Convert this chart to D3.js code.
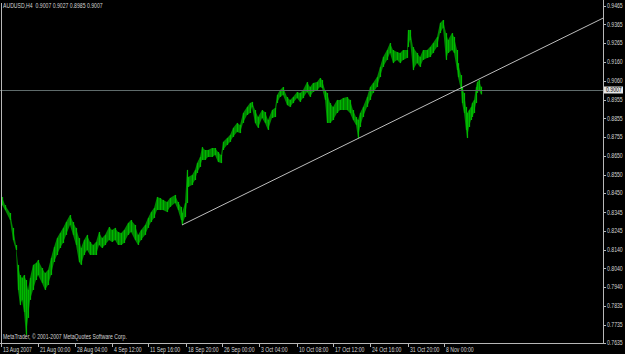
<!DOCTYPE html>
<html>
<head>
<meta charset="utf-8">
<script src="https://cdn.jsdelivr.net/npm/d3@7"></script>
<style>
  html, body { margin: 0; padding: 0; background: #000; }
  svg { display: block; }
  text { font-family: "Liberation Sans", Arial, sans-serif; }
</style>
</head>
<body>
<div id="chart"></div>
<script>
// AUDUSD H4 - bar index (1 px per bar), high and low per sample
const barIdx = [2, 5, 10, 13, 16, 18, 20, 22, 24, 26, 28, 30, 33, 36, 38, 42, 45, 48, 51, 54,
  57, 60, 63, 66, 70, 73, 76, 79, 81, 84, 87, 90, 93, 96, 99, 102, 105, 109, 112, 115,
  118, 121, 124, 128, 131, 135, 138, 141, 145, 148, 151, 154, 157, 160, 163, 167, 170, 175, 178, 181,
  182, 185, 187, 188, 192, 195, 197, 200, 202, 205, 208, 212, 215, 218, 221, 223, 227, 230, 233, 237,
  240, 243, 247, 250, 252, 255, 258, 262, 265, 268, 272, 275, 277, 280, 283, 287, 290, 293, 297, 300,
  303, 307, 310, 313, 317, 320, 322, 325, 327, 330, 333, 337, 340, 343, 347, 350, 353, 356, 358, 360,
  363, 367, 370, 373, 377, 380, 383, 387, 390, 393, 397, 400, 403, 407, 408, 410, 413, 417, 420, 423,
  427, 430, 433, 437, 440, 443, 446, 448, 452, 454, 457, 458, 461, 462, 464, 466, 467, 469, 471, 472,
  474, 476, 477, 479, 481];

const highs = [0.8428, 0.8384, 0.8341, 0.8260, 0.8167, 0.8059, 0.8004, 0.7988, 0.8004, 0.7977, 0.7923, 0.7988, 0.8059, 0.8070, 0.8086, 0.8042, 0.8015, 0.8032, 0.8097, 0.8156,
  0.8205, 0.8232, 0.8260, 0.8292, 0.8330, 0.8292, 0.8260, 0.8205, 0.8151, 0.8194, 0.8222, 0.8184, 0.8167, 0.8184, 0.8238, 0.8205, 0.8222, 0.8265, 0.8249, 0.8260,
  0.8238, 0.8232, 0.8249, 0.8287, 0.8303, 0.8276, 0.8222, 0.8249, 0.8276, 0.8314, 0.8346, 0.8368, 0.8428, 0.8422, 0.8412, 0.8401, 0.8422, 0.8439, 0.8401, 0.8374,
  0.8341, 0.8395, 0.8575, 0.8536, 0.8547, 0.8575, 0.8612, 0.8645, 0.8699, 0.8683, 0.8683, 0.8694, 0.8694, 0.8672, 0.8656, 0.8727, 0.8748, 0.8765, 0.8803, 0.8830,
  0.8819, 0.8884, 0.8917, 0.8938, 0.8944, 0.8900, 0.8862, 0.8900, 0.8889, 0.8846, 0.8900, 0.8911, 0.8982, 0.9009, 0.9025, 0.8971, 0.8955, 0.8971, 0.8998, 0.8993,
  0.9009, 0.9052, 0.9025, 0.9047, 0.9052, 0.9074, 0.9063, 0.9009, 0.8993, 0.8938, 0.8917, 0.8955, 0.8955, 0.8965, 0.8971, 0.8955, 0.8900, 0.8862, 0.8846, 0.8884,
  0.8917, 0.8971, 0.9025, 0.9047, 0.9079, 0.9134, 0.9188, 0.9226, 0.9264, 0.9226, 0.9215, 0.9210, 0.9226, 0.9226, 0.9335, 0.9335, 0.9242, 0.9210, 0.9188, 0.9226,
  0.9226, 0.9242, 0.9264, 0.9297, 0.9373, 0.9389, 0.9318, 0.9280, 0.9318, 0.9297, 0.9226, 0.9155, 0.9090, 0.9025, 0.8993, 0.8917, 0.8884, 0.8900, 0.8917, 0.8938,
  0.8955, 0.9025, 0.9052, 0.9063, 0.9027];

const lows = [0.8384, 0.8357, 0.8303, 0.8194, 0.8140, 0.7923, 0.7841, 0.7869, 0.7803, 0.7679, 0.7771, 0.7869, 0.7923, 0.7977, 0.8004, 0.7961, 0.7923, 0.7950, 0.8004, 0.8075,
  0.8113, 0.8151, 0.8178, 0.8222, 0.8276, 0.8222, 0.8167, 0.8075, 0.8059, 0.8113, 0.8140, 0.8113, 0.8113, 0.8113, 0.8167, 0.8151, 0.8167, 0.8194, 0.8184, 0.8194,
  0.8167, 0.8167, 0.8178, 0.8222, 0.8238, 0.8194, 0.8167, 0.8194, 0.8222, 0.8260, 0.8292, 0.8314, 0.8357, 0.8357, 0.8357, 0.8346, 0.8374, 0.8395, 0.8357, 0.8303,
  0.8276, 0.8319, 0.8395, 0.8482, 0.8493, 0.8520, 0.8558, 0.8591, 0.8629, 0.8629, 0.8645, 0.8645, 0.8656, 0.8618, 0.8612, 0.8683, 0.8710, 0.8727, 0.8754, 0.8781,
  0.8775, 0.8830, 0.8873, 0.8884, 0.8917, 0.8830, 0.8803, 0.8857, 0.8830, 0.8792, 0.8857, 0.8862, 0.8938, 0.8971, 0.8982, 0.8927, 0.8917, 0.8938, 0.8965, 0.8944,
  0.8965, 0.8998, 0.8971, 0.8998, 0.9009, 0.9025, 0.9020, 0.8955, 0.8830, 0.8830, 0.8846, 0.8884, 0.8900, 0.8900, 0.8900, 0.8884, 0.8846, 0.8819, 0.8748, 0.8808,
  0.8862, 0.8917, 0.8955, 0.8993, 0.9025, 0.9079, 0.9134, 0.9172, 0.9210, 0.9155, 0.9172, 0.9155, 0.9172, 0.9183, 0.9242, 0.9280, 0.9117, 0.9155, 0.9134, 0.9172,
  0.9183, 0.9188, 0.9210, 0.9242, 0.9318, 0.9346, 0.9172, 0.9210, 0.9226, 0.9210, 0.9117, 0.9079, 0.9009, 0.8938, 0.8884, 0.8792, 0.8748, 0.8808, 0.8846, 0.8862,
  0.8884, 0.8938, 0.8993, 0.9009, 0.8985];

// price scale labels (right side)
const priceTicks = [0.9465, 0.9365, 0.9265, 0.9160, 0.9060, 0.8955, 0.8855, 0.8755, 0.8650, 0.8550,
  0.8450, 0.8345, 0.8245, 0.8140, 0.8040, 0.7940, 0.7835, 0.7735, 0.7635];

// time scale labels and the bar they sit on
const timeLabels = ["13 Aug 2007", "21 Aug 00:00", "28 Aug 04:00", "4 Sep 12:00", "11 Sep 16:00",
  "18 Sep 20:00", "26 Sep 00:00", "3 Oct 04:00", "10 Oct 08:00", "17 Oct 12:00",
  "24 Oct 16:00", "31 Oct 20:00", "8 Nov 00:00"];
const timeBars = [1, 38, 75, 112, 148, 186, 222, 259, 297, 333, 370, 408, 444];

// trend line anchors (bar, price), drawn as a ray to the right edge
const trendBars = [182, 603];
const trendPrices = [0.8276, 0.9399];

const lastClose = 0.9007;
const header = "AUDUSD,H4  0.9007 0.9027 0.8985 0.9007";
const copyright = "MetaTrader, \u00a9 2001-2007 MetaQuotes Software Corp.";

const config = {
  width: 625,
  height: 354,
  plotRight: 603,
  plotTop: 6,
  plotBottom: 343,
  fontSize: 6.6,
  squeeze: 0.78,   // terminal font is narrow, squeeze glyphs horizontally
  textColor: '#d4d4d4',
  axisColor: '#b8b8b8',
  barColor: '#008600',
  barEdge: '#00b800',
  closeLineColor: '#5f6b6b',
  trendColor: '#bdbdbd'
};

const svg = d3.select('#chart').append('svg')
  .attr('width', config.width)
  .attr('height', config.height)
  .style('background', '#000');

const x = d3.scaleLinear().domain([0, 603]).range([0, config.plotRight]);
const y = d3.scaleLinear().domain([0.7635, 0.9465]).range([config.plotBottom, config.plotTop]);

// small helper for the narrow terminal text
function label(parent, tx, ty, str, color) {
  return parent.append('text')
    .attr('transform', 'translate(' + tx + ',' + ty + ') scale(' + config.squeeze + ',1)')
    .text(str)
    .style('fill', color || config.textColor)
    .style('font-size', config.fontSize + 'px')
    .style('white-space', 'pre');
}

const bars = barIdx.map((b, i) => ({b: b, h: highs[i], l: lows[i]}));

// price ribbon (high-low range)
const area = d3.area()
  .x(d => x(d.b))
  .y0(d => y(d.l))
  .y1(d => y(d.h));

svg.append('path')
  .datum(bars)
  .attr('d', area)
  .attr('fill', config.barColor);

// vertical high-low bars
svg.append('g')
  .selectAll('line')
  .data(bars)
  .enter().append('line')
  .attr('x1', d => x(d.b) + 0.5)
  .attr('x2', d => x(d.b) + 0.5)
  .attr('y1', d => y(d.h))
  .attr('y2', d => y(d.l))
  .attr('stroke', config.barEdge)
  .attr('stroke-width', 1.2);

// last close horizontal line
svg.append('line')
  .attr('x1', 0).attr('x2', config.plotRight)
  .attr('y1', Math.round(y(lastClose)) + 0.5)
  .attr('y2', Math.round(y(lastClose)) + 0.5)
  .attr('stroke', config.closeLineColor)
  .attr('stroke-width', 1);

// trend line
svg.append('line')
  .attr('x1', x(trendBars[0])).attr('y1', y(trendPrices[0]))
  .attr('x2', x(trendBars[1])).attr('y2', y(trendPrices[1]))
  .attr('stroke', config.trendColor)
  .attr('stroke-width', 1);

// frame
svg.append('line')
  .attr('x1', 1.5).attr('x2', 1.5).attr('y1', 3).attr('y2', config.plotBottom)
  .attr('stroke', config.axisColor);
svg.append('line')
  .attr('x1', config.plotRight + 0.5).attr('x2', config.plotRight + 0.5)
  .attr('y1', 0).attr('y2', config.plotBottom + 1)
  .attr('stroke', config.axisColor);
svg.append('line')
  .attr('x1', 0).attr('x2', config.plotRight + 1)
  .attr('y1', config.plotBottom + 0.5).attr('y2', config.plotBottom + 0.5)
  .attr('stroke', config.axisColor);

// price axis
const pg = svg.append('g');
pg.selectAll('line')
  .data(priceTicks)
  .enter().append('line')
  .attr('x1', config.plotRight).attr('x2', config.plotRight + 3)
  .attr('y1', d => Math.round(y(d)) + 0.5)
  .attr('y2', d => Math.round(y(d)) + 0.5)
  .attr('stroke', config.axisColor);
priceTicks.forEach(d => label(pg, config.plotRight + 4, y(d) + 2.3, d.toFixed(4)));

// current price marker
const cy = Math.round(y(lastClose));
svg.append('rect')
  .attr('x', config.plotRight + 1).attr('y', cy - 3.5)
  .attr('width', 19).attr('height', 7)
  .attr('fill', '#e6e6e6');
label(svg, config.plotRight + 3, cy + 2.4, lastClose.toFixed(4), '#000');

// time axis
const tg = svg.append('g');
tg.selectAll('line')
  .data(timeBars)
  .enter().append('line')
  .attr('x1', d => Math.round(x(d)) + 0.5)
  .attr('x2', d => Math.round(x(d)) + 0.5)
  .attr('y1', config.plotBottom)
  .attr('y2', config.plotBottom + 4)
  .attr('stroke', config.axisColor);
timeLabels.forEach((d, i) => label(tg, x(timeBars[i]) + 2, 351.5, d));

// header and copyright
label(svg, 3, 8, header);
label(svg, 3, 339, copyright);
</script>
</body>
</html>
